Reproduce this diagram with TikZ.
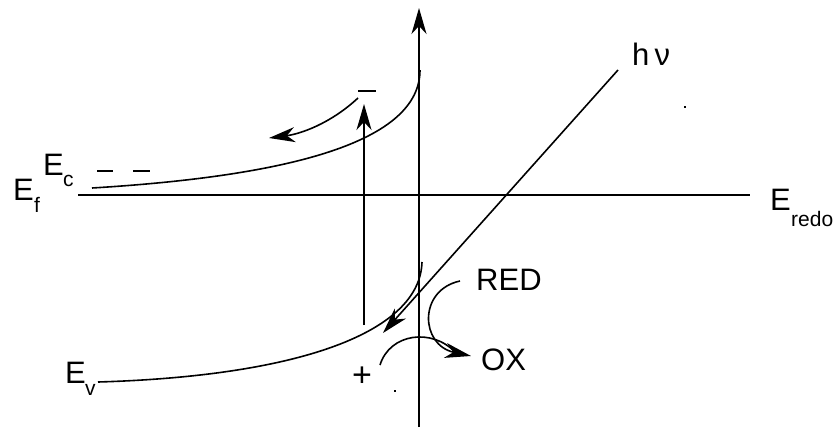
\documentclass[tikz,border=0pt]{standalone}
\usepackage{fontspec}
\setmainfont{Liberation Sans}
\usetikzlibrary{arrows.meta}
\begin{document}
\begin{tikzpicture}[x=1pt,y=-1pt,
  ln/.style={line width=1.6pt},
  arr/.style={ln,-{Stealth[length=26pt,width=15pt,inset=8pt]}},
  lbl/.style={anchor=base west,inner sep=0pt,font=\fontsize{31}{31}\selectfont},
  sub/.style={anchor=base west,inner sep=0pt,font=\fontsize{21}{21}\selectfont},
  dot/.style={fill=black,minimum size=2pt,inner sep=0pt}]
\useasboundingbox (0,0) rectangle (835,429);
% coordinates
\coordinate (axb) at (419,427);
\coordinate (axt) at (419,8);
\coordinate (efl) at (78,195);
\coordinate (efr) at (750,195);
\coordinate (ec0) at (92,188);
\coordinate (ec1) at (420,70);
\coordinate (ev0) at (98,382);
\coordinate (ev1) at (422,262);
\coordinate (d1a) at (97,171);
\coordinate (d1b) at (113,171);
\coordinate (d2a) at (133,171);
\coordinate (d2b) at (150,171);
\coordinate (ma) at (358,91);
\coordinate (mb) at (376,91);
\coordinate (ea0) at (358,98);
\coordinate (ea1) at (269,138);
\coordinate (va0) at (364,325);
\coordinate (va1) at (364,104);
\coordinate (hv0) at (618,70);
\coordinate (hv1) at (383,333);
\coordinate (rd0) at (460,281);
\coordinate (rd1) at (471,356);
\coordinate (ba0) at (380,365);
\coordinate (ba1) at (455,352);
% axes and lines
\draw[arr] (axb) -- (axt);
\draw[ln] (efl) -- (efr);
\draw[ln] (ec0) .. controls (290,176) and (420,142) .. (ec1);
\draw[ln] (ev0) .. controls (300,376) and (420,332) .. (ev1);
\draw[ln] (d1a) -- (d1b);
\draw[ln] (d2a) -- (d2b);
\draw[ln] (ma) -- (mb);
\draw[arr] (ea0) .. controls (330,124) and (300,134) .. (ea1);
\draw[arr] (va0) -- (va1);
\draw[arr] (hv0) -- (hv1);
\draw[arr] (rd0) .. controls (418,290) and (420,345) .. (rd1);
\draw[ln] (ba0) .. controls (390,333) and (432,328) .. (ba1);
% labels
\node[lbl] (ef) at (13,200) {E};
\node[sub] (efs) at (34,212) {f};
\node[lbl] (ec) at (43,175) {E};
\node[sub] (ecs) at (63,186) {c};
\node[lbl] (ev) at (65,383) {E};
\node[sub] (evs) at (85,395) {v};
\node[lbl] (er) at (770,210) {E};
\node[sub] (ers) at (791,226) {redo};
\node[lbl] (hn) at (632,65) {h\,ν};
\node[lbl] (red) at (476,290) {RED};
\node[lbl] (ox) at (481,370) {OX};
\node[lbl,font=\fontsize{34}{34}\selectfont] (pl) at (352,386) {+};
\node[dot] (p1) at (685,107) {};
\node[dot] (p2) at (395,391) {};
\end{tikzpicture}
\end{document}
